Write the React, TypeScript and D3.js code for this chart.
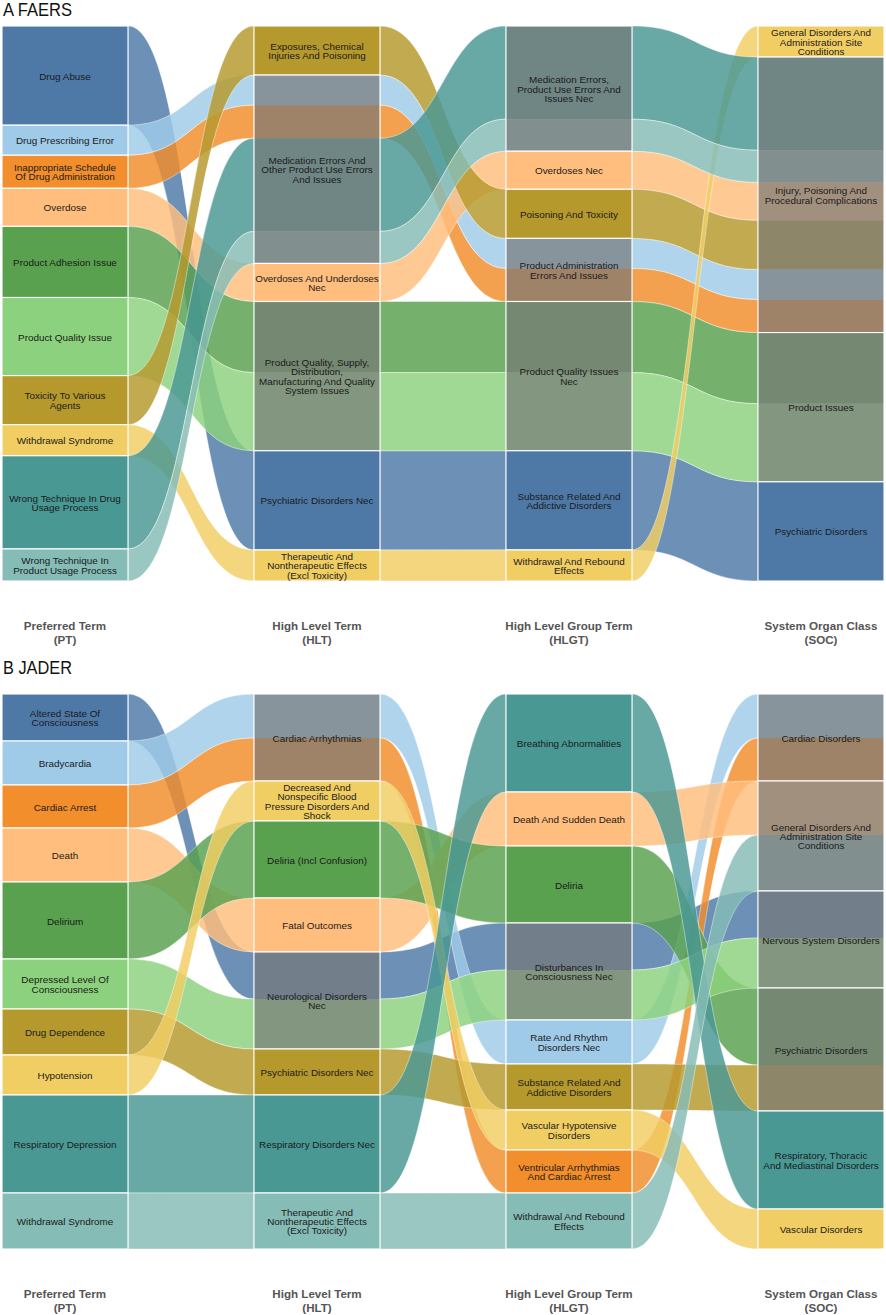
import { useRef, useEffect } from 'react';
import * as d3 from 'd3';

const WIDTH = 886;
const HEIGHT = 1315;
const FONT = "'Liberation Sans', Arial, Helvetica, sans-serif";

// tableau-like palette, one colour per preferred term (in PT order)
const COLORS = ['#4e79a7', '#a0cbe8', '#f28e2b', '#ffbe7d', '#59a14f', '#8cd17d', '#b6992d', '#f1ce63', '#499894', '#86bcb6'];

const AXIS_TITLES = [
  'Preferred Term\n(PT)',
  'High Level Term\n(HLT)',
  'High Level Group Term\n(HLGT)',
  'System Organ Class\n(SOC)',
];

// ---- A FAERS ----
const faersPT = [
  'Drug Abuse',
  'Drug Prescribing Error',
  'Inappropriate Schedule\nOf Drug Administration',
  'Overdose',
  'Product Adhesion Issue',
  'Product Quality Issue',
  'Toxicity To Various\nAgents',
  'Withdrawal Syndrome',
  'Wrong Technique In Drug\nUsage Process',
  'Wrong Technique In\nProduct Usage Process',
];
const faersValue = [99, 30, 33, 38, 71, 78, 49, 31, 93, 32];
const faersHLT = [
  'Psychiatric Disorders Nec',
  'Medication Errors And\nOther Product Use Errors\nAnd Issues',
  'Medication Errors And\nOther Product Use Errors\nAnd Issues',
  'Overdoses And Underdoses\nNec',
  'Product Quality, Supply,\nDistribution,\nManufacturing And Quality\nSystem Issues',
  'Product Quality, Supply,\nDistribution,\nManufacturing And Quality\nSystem Issues',
  'Exposures, Chemical\nInjuries And Poisoning',
  'Therapeutic And\nNontherapeutic Effects\n(Excl Toxicity)',
  'Medication Errors And\nOther Product Use Errors\nAnd Issues',
  'Medication Errors And\nOther Product Use Errors\nAnd Issues',
];
const faersHLGT = [
  'Substance Related And\nAddictive Disorders',
  'Product Administration\nErrors And Issues',
  'Product Administration\nErrors And Issues',
  'Overdoses Nec',
  'Product Quality Issues\nNec',
  'Product Quality Issues\nNec',
  'Poisoning And Toxicity',
  'Withdrawal And Rebound\nEffects',
  'Medication Errors,\nProduct Use Errors And\nIssues Nec',
  'Medication Errors,\nProduct Use Errors And\nIssues Nec',
];
const faersSOC = [
  'Psychiatric Disorders',
  'Injury, Poisoning And\nProcedural Complications',
  'Injury, Poisoning And\nProcedural Complications',
  'Injury, Poisoning And\nProcedural Complications',
  'Product Issues',
  'Product Issues',
  'Injury, Poisoning And\nProcedural Complications',
  'General Disorders And\nAdministration Site\nConditions',
  'Injury, Poisoning And\nProcedural Complications',
  'Injury, Poisoning And\nProcedural Complications',
];

// ---- B JADER ----
const jaderPT = [
  'Altered State Of\nConsciousness',
  'Bradycardia',
  'Cardiac Arrest',
  'Death',
  'Delirium',
  'Depressed Level Of\nConsciousness',
  'Drug Dependence',
  'Hypotension',
  'Respiratory Depression',
  'Withdrawal Syndrome',
];
const jaderValue = [47, 44, 43, 54, 77, 50, 46, 40, 98, 56];
const jaderHLT = [
  'Neurological Disorders\nNec',
  'Cardiac Arrhythmias',
  'Cardiac Arrhythmias',
  'Fatal Outcomes',
  'Deliria (Incl Confusion)',
  'Neurological Disorders\nNec',
  'Psychiatric Disorders Nec',
  'Decreased And\nNonspecific Blood\nPressure Disorders And\nShock',
  'Respiratory Disorders Nec',
  'Therapeutic And\nNontherapeutic Effects\n(Excl Toxicity)',
];
const jaderHLGT = [
  'Disturbances In\nConsciousness Nec',
  'Rate And Rhythm\nDisorders Nec',
  'Ventricular Arrhythmias\nAnd Cardiac Arrest',
  'Death And Sudden Death',
  'Deliria',
  'Disturbances In\nConsciousness Nec',
  'Substance Related And\nAddictive Disorders',
  'Vascular Hypotensive\nDisorders',
  'Breathing Abnormalities',
  'Withdrawal And Rebound\nEffects',
];
const jaderSOC = [
  'Nervous System Disorders',
  'Cardiac Disorders',
  'Cardiac Disorders',
  'General Disorders And\nAdministration Site\nConditions',
  'Psychiatric Disorders',
  'Nervous System Disorders',
  'Psychiatric Disorders',
  'Vascular Disorders',
  'Respiratory, Thoracic\nAnd Mediastinal Disorders',
  'General Disorders And\nAdministration Site\nConditions',
];

type PanelData = {
  title: string;
  titleY: number;
  top: number;
  pt: string[];
  value: number[];
  hlt: string[];
  hlgt: string[];
  soc: string[];
};

const panels: PanelData[] = [
  { title: 'A FAERS', titleY: 16, top: 26, pt: faersPT, value: faersValue, hlt: faersHLT, hlgt: faersHLGT, soc: faersSOC },
  { title: 'B JADER', titleY: 674, top: 694, pt: jaderPT, value: jaderValue, hlt: jaderHLT, hlgt: jaderHLGT, soc: jaderSOC },
];

const clean = (s: string) => s.replace(/\n/g, ' ');

function drawPanel(svg: d3.Selection<SVGSVGElement, unknown, null, undefined>, p: PanelData) {
  const axes = [p.pt, p.hlt, p.hlgt, p.soc];
  const n = p.pt.length;
  const total = d3.sum(p.value);
  const plotH = 555;

  // strata are half as wide as the spacing between axes
  const x = d3.scaleLinear().domain([0.75, 4.25]).range([2, WIDTH - 2]);
  const bw = x(1.5) - x(1);
  const y = d3.scaleLinear().domain([0, total]).range([p.top, p.top + plotH]);

  // lode positions per axis: strata alphabetical, lodes inside ordered by previous axis
  const pos: number[][] = [];
  const strataPerAxis: string[][] = [];
  axes.forEach((names, k) => {
    const strata = Array.from(new Set(names)).sort((a, b) => d3.ascending(clean(a), clean(b)));
    const rank = new Map(strata.map((s, i) => [s, i]));
    const prev = k === 0 ? d3.range(n) : pos[k - 1];
    const order = d3.range(n).sort((a, b) => rank.get(names[a])! - rank.get(names[b])! || prev[a] - prev[b]);
    const cur = new Array(n);
    let acc = 0;
    order.forEach((i) => {
      cur[i] = acc;
      acc += p.value[i];
    });
    pos.push(cur);
    strataPerAxis.push(strata);
  });

  const g = svg.append('g');

  // title
  g.append('text')
    .attr('x', 3)
    .attr('y', p.titleY)
    .attr('font-family', FONT)
    .attr('font-size', 18)
    .attr('textLength', 69)
    .attr('lengthAdjust', 'spacingAndGlyphs')
    .attr('fill', '#111')
    .text(p.title);

  // flows
  const flows = g.append('g');
  for (let k = 0; k < 3; k++) {
    const x0 = x(k + 1) + bw / 2;
    const x1 = x(k + 2) - bw / 2;
    const xm = (x0 + x1) / 2;
    for (let i = 0; i < n; i++) {
      const a0 = y(pos[k][i]);
      const a1 = y(pos[k][i] + p.value[i]);
      const b0 = y(pos[k + 1][i]);
      const b1 = y(pos[k + 1][i] + p.value[i]);
      const path = d3.path();
      path.moveTo(x0, a0);
      path.bezierCurveTo(xm, a0, xm, b0, x1, b0);
      path.lineTo(x1, b1);
      path.bezierCurveTo(xm, b1, xm, a1, x0, a1);
      path.closePath();
      flows.append('path')
        .attr('d', path.toString())
        .attr('fill', COLORS[i])
        .attr('fill-opacity', 0.83)
        .attr('stroke', '#fff')
        .attr('stroke-opacity', 0.7)
        .attr('stroke-width', 0.6);
    }
  }

  // strata
  const strataG = g.append('g');
  axes.forEach((names, k) => {
    const left = x(k + 1) - bw / 2;
    strataPerAxis[k].forEach((s) => {
      const members = d3.range(n).filter((i) => names[i] === s);
      const y0 = y(d3.min(members, (i) => pos[k][i])!);
      const y1 = y(d3.max(members, (i) => pos[k][i] + p.value[i])!);
      members.forEach((i) => {
        strataG.append('rect')
          .attr('x', left)
          .attr('y', y(pos[k][i]))
          .attr('width', bw)
          .attr('height', y(pos[k][i] + p.value[i]) - y(pos[k][i]))
          .attr('fill', COLORS[i]);
      });
      if (members.length > 1) {
        strataG.append('rect')
          .attr('x', left)
          .attr('y', y0)
          .attr('width', bw)
          .attr('height', y1 - y0)
          .attr('fill', '#808080')
          .attr('fill-opacity', 0.73);
      }
      strataG.append('rect')
        .attr('x', left)
        .attr('y', y0)
        .attr('width', bw)
        .attr('height', y1 - y0)
        .attr('fill', 'none')
        .attr('stroke', '#fff')
        .attr('stroke-width', 1.1);

      const lines = s.split('\n');
      const lh = 9.4;
      const cy = (y0 + y1) / 2 - ((lines.length - 1) * lh) / 2;
      const t = strataG.append('text')
        .attr('font-family', FONT)
        .attr('font-size', 9.9)
        .attr('fill', '#1a1a1a')
        .attr('text-anchor', 'middle')
        .attr('dominant-baseline', 'central');
      lines.forEach((line, j) => {
        t.append('tspan')
          .attr('x', x(k + 1))
          .attr('y', cy + j * lh)
          .text(line);
      });
    });
  });

  // axis titles
  AXIS_TITLES.forEach((title, k) => {
    const t = g.append('text')
      .attr('font-family', FONT)
      .attr('font-size', 11.6)
      .attr('font-weight', 'bold')
      .attr('fill', '#555')
      .attr('text-anchor', 'middle');
    title.split('\n').forEach((line, j) => {
      t.append('tspan')
        .attr('x', x(k + 1))
        .attr('y', p.top + plotH + 49 + j * 13.5)
        .text(line);
    });
  });
}

export default function App() {
  const svgRef = useRef<SVGSVGElement>(null);

  useEffect(() => {
    if (!svgRef.current) return;
    const svg = d3.select(svgRef.current);
    svg.selectAll('*').remove();
    svg.append('rect').attr('width', WIDTH).attr('height', HEIGHT).attr('fill', '#fff');
    panels.forEach((p) => drawPanel(svg, p));
  }, []);

  return (
    <svg
      ref={svgRef}
      width={WIDTH}
      height={HEIGHT}
      style={{ position: 'absolute', left: 0, top: 0, display: 'block' }}
    />
  );
}
